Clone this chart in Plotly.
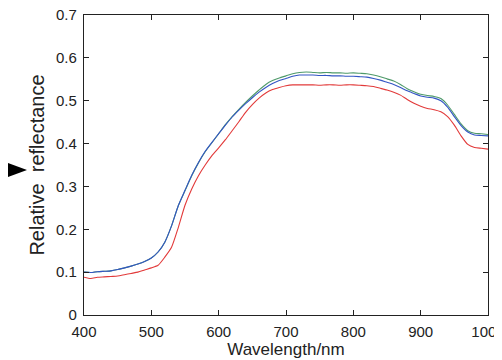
import plotly.graph_objects as go

wavelength = list(range(400, 1001, 10))

green = [0.100, 0.099, 0.101, 0.102, 0.103, 0.106, 0.110, 0.114, 0.119, 0.125,
         0.133, 0.147, 0.170, 0.208, 0.255, 0.290, 0.325, 0.355, 0.381, 0.402,
         0.423, 0.444, 0.463, 0.480, 0.496, 0.511, 0.525, 0.538, 0.547, 0.553,
         0.558, 0.563, 0.566, 0.567, 0.566, 0.565, 0.566, 0.565, 0.565, 0.564,
         0.565, 0.564, 0.563, 0.560, 0.556, 0.551, 0.546, 0.538, 0.528, 0.521,
         0.515, 0.512, 0.510, 0.505, 0.490, 0.468, 0.446, 0.430, 0.424, 0.423,
         0.421]

blue = [0.100, 0.099, 0.101, 0.102, 0.103, 0.106, 0.110, 0.114, 0.119, 0.125,
        0.133, 0.147, 0.170, 0.208, 0.255, 0.291, 0.326, 0.356, 0.382, 0.403,
        0.423, 0.443, 0.462, 0.478, 0.493, 0.507, 0.520, 0.531, 0.540, 0.547,
        0.552, 0.557, 0.560, 0.560, 0.560, 0.559, 0.559, 0.558, 0.558, 0.557,
        0.557, 0.556, 0.555, 0.552, 0.548, 0.543, 0.538, 0.531, 0.523, 0.517,
        0.511, 0.508, 0.506, 0.500, 0.485, 0.463, 0.442, 0.427, 0.420, 0.419,
        0.418]

red = [0.088, 0.085, 0.088, 0.089, 0.090, 0.091, 0.094, 0.097, 0.100, 0.105,
       0.110, 0.116, 0.135, 0.158, 0.204, 0.256, 0.294, 0.325, 0.350, 0.372,
       0.390, 0.409, 0.430, 0.451, 0.473, 0.491, 0.506, 0.518, 0.526, 0.531,
       0.535, 0.537, 0.537, 0.537, 0.537, 0.536, 0.537, 0.537, 0.536, 0.537,
       0.537, 0.536, 0.535, 0.533, 0.529, 0.525, 0.520, 0.513, 0.503, 0.494,
       0.487, 0.482, 0.479, 0.474, 0.463, 0.443, 0.418, 0.398, 0.391, 0.389,
       0.387]

x_ticks = [400, 500, 600, 700, 800, 900, 1000]
y_ticks = [0, 0.1, 0.2, 0.3, 0.4, 0.5, 0.6, 0.7]
y_tick_text = ["0", "0.1", "0.2", "0.3", "0.4", "0.5", "0.6", "0.7"]

fig = go.Figure()
for vals, col in ((green, "#4f9a6a"), (blue, "#3355c4"), (red, "#e23a3a")):
    fig.add_trace(go.Scatter(x=wavelength, y=vals, mode="lines",
                             line=dict(color=col, width=1.1, shape="spline",
                                       smoothing=0.6)))

font = dict(family="Liberation Sans, Arial, sans-serif", size=15, color="#222")

# page body has an 8px default margin; figure size/margins compensate for it
fig.update_layout(
    width=494, height=352,
    margin=dict(l=76, r=14, t=7, b=45),
    paper_bgcolor="white", plot_bgcolor="white",
    showlegend=False,
    font=font,
    xaxis=dict(range=[400, 1000], tickvals=x_ticks, ticks="inside", ticklen=5,
               tickcolor="#222", showline=True, linecolor="#222", linewidth=1.2,
               mirror="ticks", showgrid=False, zeroline=False,
               ticklabeloverflow="allow", ticklabelstandoff=3, automargin=False,
               title=dict(text="Wavelength/nm", standoff=0,
                          font=dict(size=17))),
    yaxis=dict(range=[0, 0.7], tickvals=y_ticks, ticktext=y_tick_text,
               ticks="inside", ticklen=5, tickcolor="#222",
               showline=True, linecolor="#222", linewidth=1.2,
               mirror="ticks", showgrid=False, zeroline=False,
               ticklabeloverflow="allow", ticklabelstandoff=3, automargin=False,
               title=dict(text="Relative  reflectance", standoff=6,
                          font=dict(size=20))),
)

fig.add_shape(type="path", xref="paper", yref="paper",
              xsizemode="pixel", ysizemode="pixel",
              xanchor=-0.1881, yanchor=0.483,
              path="M 0,7 L 19,0 L 0,-7 Z",
              fillcolor="black", line=dict(color="black", width=0))

fig.write_html("out.html")
